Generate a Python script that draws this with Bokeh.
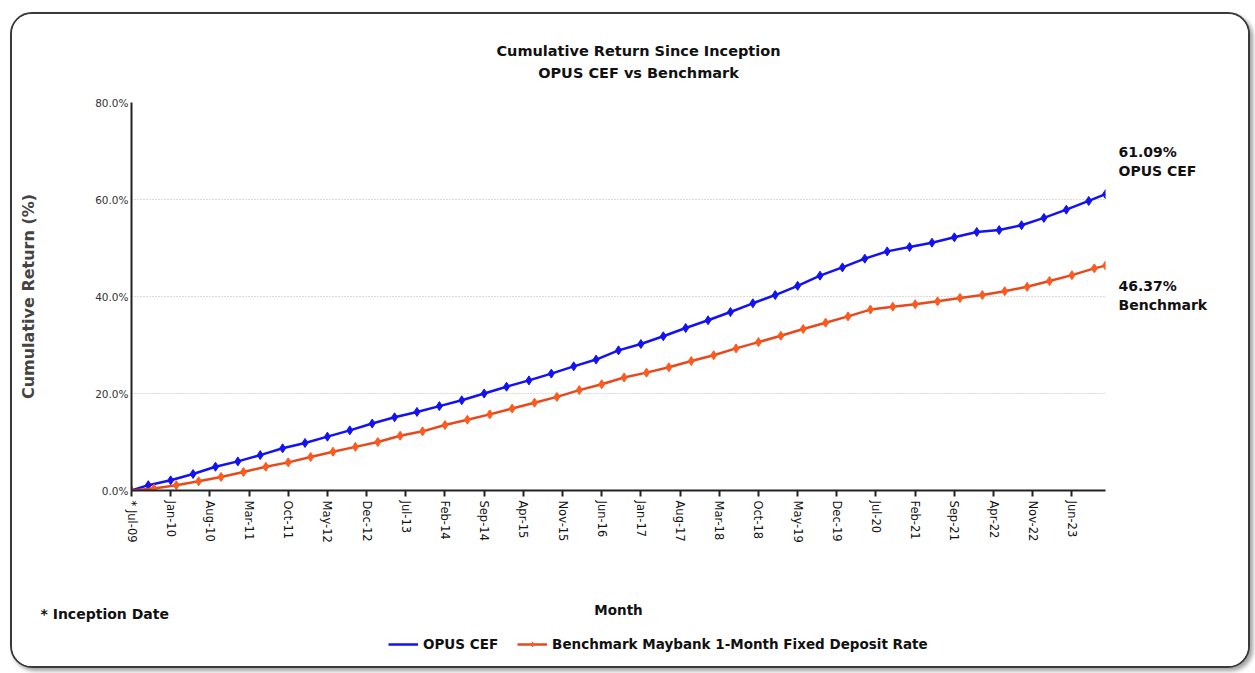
from bokeh.plotting import figure
from bokeh.layouts import column
from bokeh.models import FixedTicker, Legend, LegendItem, Range1d, Label, LinearAxis
from bokeh.embed import file_html
from bokeh.resources import INLINE

# ---- data (months since inception, cumulative return %) ----
tick_labels = ["* Jul-09", "Jan-10", "Aug-10", "Mar-11", "Oct-11", "May-12", "Dec-12", "Jul-13",
               "Feb-14", "Sep-14", "Apr-15", "Nov-15", "Jun-16", "Jan-17", "Aug-17", "Mar-18",
               "Oct-18", "May-19", "Dec-19", "Jul-20", "Feb-21", "Sep-21", "Apr-22", "Nov-22",
               "Jun-23"]
tick_step = 7
last_month = 174

opus_month = [0, 3, 7, 11, 15, 19, 23, 27, 31, 35, 39, 43, 47, 51, 55, 59, 63, 67, 71, 75, 79,
              83, 87, 91, 95, 99, 103, 107, 111, 115, 119, 123, 127, 131, 135, 139, 143, 147,
              151, 155, 159, 163, 167, 171, 174]
opus_ret = [0.0, 1.1, 2.1, 3.4, 4.9, 6.0, 7.3, 8.7, 9.8, 11.1, 12.4, 13.8, 15.1, 16.2, 17.4,
            18.6, 20.0, 21.4, 22.7, 24.1, 25.6, 27.0, 28.9, 30.2, 31.8, 33.5, 35.1, 36.8, 38.6,
            40.3, 42.2, 44.3, 46.0, 47.8, 49.3, 50.2, 51.1, 52.2, 53.3, 53.7, 54.7, 56.2, 57.9,
            59.7, 61.09]

bench_month = [0, 4, 8, 12, 16, 20, 24, 28, 32, 36, 40, 44, 48, 52, 56, 60, 64, 68, 72, 76, 80,
               84, 88, 92, 96, 100, 104, 108, 112, 116, 120, 124, 128, 132, 136, 140, 144, 148,
               152, 156, 160, 164, 168, 172, 174]
bench_ret = [0.0, 0.4, 1.1, 1.9, 2.8, 3.8, 4.9, 5.8, 6.9, 8.0, 9.0, 10.0, 11.3, 12.2, 13.5, 14.6,
             15.7, 16.9, 18.1, 19.3, 20.7, 21.9, 23.3, 24.3, 25.4, 26.7, 27.9, 29.3, 30.6, 31.9,
             33.3, 34.6, 35.9, 37.3, 37.9, 38.4, 39.0, 39.7, 40.3, 41.1, 42.0, 43.2, 44.4, 45.8,
             46.37]

opus_name = "OPUS CEF"
bench_name = "Benchmark Maybank 1-Month Fixed Deposit Rate"
bench_short = "Benchmark"
title_1 = "Cumulative Return Since Inception"
title_2 = "OPUS CEF vs Benchmark"
note_text = "* Inception Date"
x_title = "Month"
y_title = "Cumulative Return (%)"
y_ticks = [0, 20, 40, 60, 80]
callout_pos = [67.8, 40.2]       # vertical anchors (% units) of the right-hand call-outs

BLUE = "#1212F2"
ORANGE_LINE = "#E8491C"
ORANGE_MARK = "#FF5A1E"
FONT = "DejaVu Sans"
INK = "#111111"

W = 1236
H_TOP, H_MAIN, H_FOOT = 76, 470, 106


def text_strip(height):
    f = figure(width=W, height=height, output_backend="svg", toolbar_location=None,
               x_range=Range1d(0, W), y_range=Range1d(height, 0),
               x_axis_type=None, y_axis_type=None, min_border=0)
    f.frame_align = False
    f.outline_line_color = None
    f.xgrid.grid_line_color = None
    f.ygrid.grid_line_color = None
    f.border_fill_color = "white"
    return f


def bold_label(x, y, text, size, align="center"):
    return Label(x=x, y=y, text=text, text_align=align, text_baseline="middle",
                 text_font=FONT, text_font_style="bold", text_font_size=size,
                 text_color=INK)


# ---------- title strip ----------
top = text_strip(H_TOP)
top.add_layout(bold_label(626, 36, title_1, "14.5px"))
top.add_layout(bold_label(626, 58, title_2, "14.5px"))

# ---------- main chart ----------
p = figure(width=W, height=H_MAIN, output_backend="svg", toolbar_location=None,
           x_range=Range1d(0, last_month), y_range=Range1d(0, 80),
           min_border_left=119, min_border_right=143, min_border_top=12, min_border_bottom=70)
p.frame_align = False
p.outline_line_color = None
p.background_fill_color = "white"
p.border_fill_color = "white"

p.line(opus_month, opus_ret, color=BLUE, line_width=2.5)
p.scatter(opus_month, opus_ret, marker="diamond", size=9, color=BLUE)
p.line(bench_month, bench_ret, color=ORANGE_LINE, line_width=2.5)
p.scatter(bench_month, bench_ret, marker="diamond", size=9, color=ORANGE_MARK)

xa = p.xaxis[0]
xa.ticker = FixedTicker(ticks=[i * tick_step for i in range(len(tick_labels))])
xa.major_label_overrides = {i * tick_step: t for i, t in enumerate(tick_labels)}
xa.major_label_orientation = "vertical"
xa.major_label_text_font = FONT
xa.major_label_text_font_size = "11.5px"
xa.major_label_text_color = INK
xa.major_tick_out = 6
xa.major_tick_in = 0
xa.minor_tick_out = 0
xa.minor_tick_in = 0
xa.major_tick_line_color = "#222222"
xa.major_tick_line_width = 2
xa.axis_line_color = "#222222"
xa.axis_line_width = 2
xa.major_label_standoff = 4

ya = p.yaxis[0]
ya.ticker = FixedTicker(ticks=y_ticks)
ya.major_label_overrides = {v: f"{v:.1f}%" for v in y_ticks}
ya.major_label_text_font = FONT
ya.major_label_text_font_size = "10.5px"
ya.major_label_text_color = "#333333"
ya.major_tick_out = 0
ya.major_tick_in = 0
ya.minor_tick_out = 0
ya.minor_tick_in = 0
ya.major_label_standoff = 3
ya.axis_line_color = "#222222"
ya.axis_line_width = 2
ya.axis_label = y_title
ya.axis_label_text_font = FONT
ya.axis_label_text_font_style = "bold"
ya.axis_label_text_font_size = "16px"
ya.axis_label_standoff = 54

ra = LinearAxis(ticker=FixedTicker(ticks=callout_pos))
ra.major_label_overrides = {callout_pos[0]: f"{opus_ret[-1]:.2f}%\n{opus_name}",
                            callout_pos[1]: f"{bench_ret[-1]:.2f}%\n{bench_short}"}
ra.major_label_text_font = FONT
ra.major_label_text_font_style = "bold"
ra.major_label_text_font_size = "14px"
ra.major_label_text_color = INK
ra.major_label_text_line_height = 1.22
ra.major_label_standoff = 7
ra.axis_line_color = None
ra.major_tick_line_color = None
ra.minor_tick_line_color = None
p.add_layout(ra, "right")

p.xgrid.grid_line_color = None
p.ygrid.grid_line_color = "#B8B8B8"
p.ygrid.grid_line_dash = "1 2"
p.ygrid.grid_line_width = 1

# ---------- footer strip: note, axis title, legend ----------
foot = text_strip(H_FOOT)
foot.add_layout(bold_label(28, 53, note_text, "14px", align="left"))
foot.add_layout(bold_label(606, 49, x_title, "13.5px"))
# legend keys: the series drawn on a range that lies outside this strip's view
foot.extra_y_ranges = {"keys": Range1d(1000, 2000)}
lg_opus = foot.line(opus_month, opus_ret, color=BLUE, line_width=2.5, y_range_name="keys")
lg_bench_l = foot.line(bench_month, bench_ret, color=ORANGE_LINE, line_width=2.5,
                       y_range_name="keys")
lg_bench_m = foot.scatter(bench_month, bench_ret, marker="diamond", size=7, color=ORANGE_MARK,
                          y_range_name="keys")
legend = Legend(items=[LegendItem(label=opus_name, renderers=[lg_opus]),
                       LegendItem(label=bench_name, renderers=[lg_bench_l, lg_bench_m])],
                orientation="horizontal", location=(376, 14),
                label_text_font=FONT, label_text_font_style="bold",
                label_text_font_size="13.5px", label_text_color=INK,
                glyph_width=30, glyph_height=12, label_standoff=5, spacing=19,
                border_line_color=None, background_fill_alpha=0, padding=2, margin=0)
foot.add_layout(legend, "center")

layout = column(top, p, foot, spacing=0)
layout.styles = {"border": "2px solid #3A3A3A", "border-radius": "22px",
                 "box-shadow": "3px 3px 4px #A0A0A0", "overflow": "hidden",
                 "margin-left": "10px", "margin-top": "12px", "background": "white"}

open("out.html", "w").write(file_html(layout, INLINE))
